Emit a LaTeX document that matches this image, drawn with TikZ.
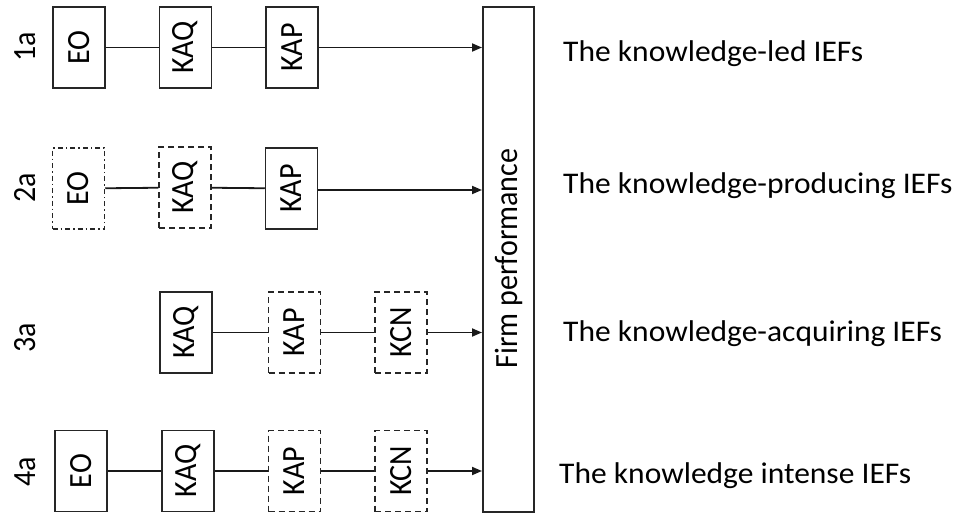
\documentclass[tikz,border=0pt]{standalone}
\usepackage{fontspec}
\setmainfont{Carlito}
\usetikzlibrary{arrows.meta}
\begin{document}
\begin{tikzpicture}[x=1pt,y=-1pt,
  box/.style={draw=black!85,line width=1.5pt,minimum width=52pt,minimum height=81pt,inner sep=0pt,
    font=\fontsize{30}{30}\selectfont},
  solidbox/.style={box},
  dashbox/.style={box,dash pattern=on 6pt off 4pt},
  dotdashbox/.style={box,dash pattern=on 5pt off 3pt on 1.5pt off 3pt},
  conn/.style={line width=1.8pt,draw=black!90},
  arr/.style={conn,-{Triangle[length=10pt,width=8pt]}},
  rowlabel/.style={font=\fontsize{30}{30}\selectfont,rotate=90,inner sep=0pt},
  rt/.style={font=\fontsize{30}{30}\selectfont,anchor=base west,inner sep=0pt},
]
\useasboundingbox (0,0) rectangle (964,514);
% big box
\node[draw=black!85,line width=1.5pt,minimum width=51pt,minimum height=505pt,inner sep=0pt,
  anchor=north west] (fp) at (482,6) {};
\node[rotate=90,font=\fontsize{30}{30}\selectfont,inner sep=0pt] (fpt) at (509,258.5) {\scalebox{1}[1.08]{Firm performance}};

% row labels
\node[rowlabel] (l1) at (25,47) {\scalebox{1}[1.08]{1a}};
\node[rowlabel] (l2) at (25,188) {\scalebox{1}[1.08]{2a}};
\node[rowlabel] (l3) at (25,338) {\scalebox{1}[1.08]{3a}};
\node[rowlabel] (l4) at (25,472) {\scalebox{1}[1.08]{4a}};

% row 1
\node[solidbox] (eo1) at (79,47.5) {\rotatebox{90}{\scalebox{1}[1.08]{EO}}};
\node[solidbox] (kaq1) at (185.5,47.5) {\rotatebox{90}{\scalebox{1}[1.08]{KAQ}}};
\node[solidbox] (kap1) at (292,47.5) {\rotatebox{90}{\scalebox{1}[1.08]{KAP}}};
\draw[conn] (eo1) -- (kaq1);
\draw[conn] (kaq1) -- (kap1);
\draw[arr] (kap1.east) -- (kap1.east -| fp.west);

% row 2
\node[dotdashbox] (eo2) at (78.5,188.5) {\rotatebox{90}{\scalebox{1}[1.08]{EO}}};
\node[dashbox] (kaq2) at (185,187.5) {\rotatebox{90}{\scalebox{1}[1.08]{KAQ}}};
\node[solidbox] (kap2) at (291.5,188.5) {\rotatebox{90}{\scalebox{1}[1.08]{KAP}}};
\draw[conn] (eo2) -- (kaq2);
\draw[conn] (kaq2) -- (kap2);
\draw[arr] ([yshift=-1.5pt]kap2.east) -- ([yshift=-1.5pt]kap2.east -| fp.west);

% row 3
\node[solidbox] (kaq3) at (186,332.5) {\rotatebox{90}{\scalebox{1}[1.08]{KAQ}}};
\node[dashbox] (kap3) at (294.5,332.5) {\rotatebox{90}{\scalebox{1}[1.08]{KAP}}};
\node[dashbox] (kcn3) at (401,332.5) {\rotatebox{90}{\scalebox{1}[1.08]{KCN}}};
\draw[conn] (kaq3) -- (kap3);
\draw[conn] (kap3) -- (kcn3);
\draw[arr] (kcn3.east) -- (kcn3.east -| fp.west);

% row 4
\node[solidbox] (eo4) at (81,471) {\rotatebox{90}{\scalebox{1}[1.08]{EO}}};
\node[solidbox] (kaq4) at (188,471) {\rotatebox{90}{\scalebox{1}[1.08]{KAQ}}};
\node[dashbox] (kap4) at (294.5,471) {\rotatebox{90}{\scalebox{1}[1.08]{KAP}}};
\node[dashbox] (kcn4) at (401,471) {\rotatebox{90}{\scalebox{1}[1.08]{KCN}}};
\draw[conn] (eo4) -- (kaq4);
\draw[conn] (kaq4) -- (kap4);
\draw[conn] (kap4) -- (kcn4);
\draw[arr] (kcn4.east) -- (kcn4.east -| fp.west);

% right texts
\node[rt] (t1) at (563,61) {\scalebox{1.05}[1]{The knowledge-led IEFs}};
\node[rt] (t2) at (563,193) {\scalebox{1.05}[1]{The knowledge-producing IEFs}};
\node[rt] (t3) at (563,341) {\scalebox{1.05}[1]{The knowledge-acquiring IEFs}};
\node[rt] (t4) at (559,483) {\scalebox{1.05}[1]{The knowledge intense IEFs}};
\end{tikzpicture}
\end{document}
